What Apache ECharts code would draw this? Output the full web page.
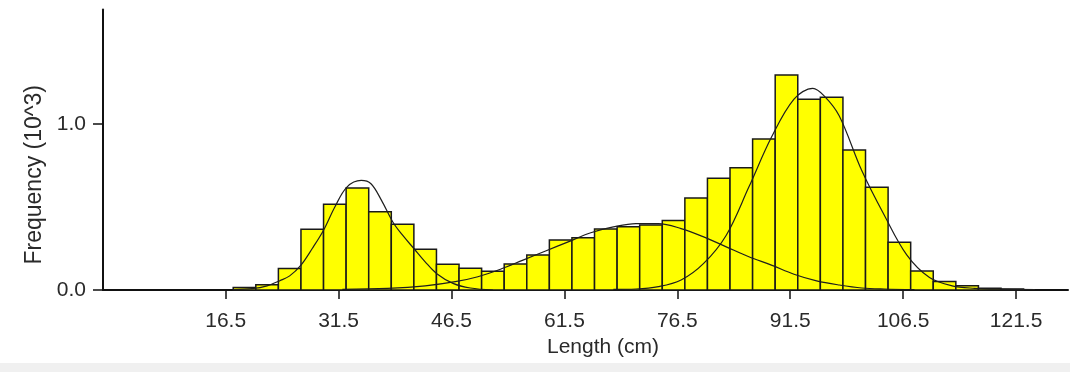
<!DOCTYPE html>
<html>
<head>
<meta charset="utf-8">
<script src="https://cdn.jsdelivr.net/npm/echarts@6/dist/echarts.min.js"></script>
<style>
html,body{margin:0;padding:0;background:#fff;}
#chart{width:1070px;height:372px;}
</style>
</head>
<body>
<div id="chart"></div>
<script>
// Length classes (bin centres, cm) and frequencies (x10^3)
const lengthBins = [19,22,25,28,31,34,37,40,43,46,49,52,55,58,61,64,67,70,73,76,79,82,85,88,91,94,97,100,103,106,109,112,115,118,121];
const frequency  = [0.015,0.032,0.13,0.366,0.516,0.615,0.472,0.396,0.246,0.155,0.131,0.113,0.157,0.211,0.301,0.315,0.367,0.381,0.392,0.418,0.554,0.673,0.737,0.91,1.295,1.149,1.161,0.843,0.619,0.287,0.114,0.051,0.026,0.01,0.006];
const binWidth = 3;

// Fitted component curves
const comp1Length = [17.5,20,22,23.7,25,26.5,28,29.5,31,32.6,34.5,35.8,37.2,38.7,40,41.5,43,44.5,46.7,49,52];
const comp1Freq   = [0.003,0.008,0.025,0.056,0.085,0.15,0.25,0.36,0.50,0.62,0.66,0.64,0.54,0.41,0.33,0.25,0.17,0.10,0.04,0.012,0.0];
const comp2Length = [32,38,43,47,50,53,56,59,62,65,68,71,74,77,80,83,86,89,92,95,98,101,104,108];
const comp2Freq   = [0.004,0.01,0.025,0.05,0.08,0.125,0.18,0.235,0.29,0.345,0.38,0.40,0.40,0.37,0.32,0.26,0.20,0.15,0.095,0.055,0.03,0.012,0.006,0.003];
const comp3Length = [68,71,74,77,80,83,86,89,92,94.5,96,98,101,104,107,110,113,116,119,124];
const comp3Freq   = [0.004,0.006,0.02,0.06,0.16,0.33,0.62,0.92,1.15,1.215,1.17,1.05,0.72,0.45,0.21,0.075,0.025,0.01,0.005,0.003];

const xTickValues = [16.5,31.5,46.5,61.5,76.5,91.5,106.5,121.5];
const yTickValues = [0,1];

const chart = echarts.init(document.getElementById('chart'), null, {renderer:'canvas'});
const font = "'Liberation Sans', Arial, sans-serif";
const curve = (xs, ys) => ({
  type:'line', smooth:0.35, showSymbol:false, symbol:'none', z:5,
  data: xs.map((x,i)=>[x, ys[i]]),
  lineStyle:{color:'#1e1e1e', width:1.2}
});

chart.setOption({
  animation:false,
  backgroundColor:'#ffffff',
  grid:{left:103, right:2, top:9.5, bottom:82},
  xAxis:{
    type:'value', min:0.2, max:128.4,
    name:'Length (cm)', nameLocation:'middle', nameGap:47,
    nameTextStyle:{fontFamily:font, fontSize:21, color:'#2a2a2a', padding:[0,0,0,35]},
    axisLine:{show:true, lineStyle:{color:'#111', width:2}},
    axisTick:{show:true, length:9, customValues:xTickValues, lineStyle:{color:'#111', width:1.5}},
    axisLabel:{customValues:xTickValues, formatter:v=>v.toFixed(1), margin:21, fontFamily:font, fontSize:21, color:'#2a2a2a'},
    splitLine:{show:false}
  },
  yAxis:{
    type:'value', min:0, max:1.69,
    name:'Frequency (10^3)', nameLocation:'middle', nameRotate:90, nameGap:52,
    nameTextStyle:{fontFamily:font, fontSize:23, color:'#2a2a2a', padding:[0,50,0,0]},
    axisLine:{show:true, lineStyle:{color:'#111', width:2}},
    axisTick:{show:true, length:10, customValues:yTickValues, lineStyle:{color:'#111', width:1.5}},
    axisLabel:{customValues:yTickValues, formatter:v=>v.toFixed(1), margin:17, fontFamily:font, fontSize:21, color:'#2a2a2a'},
    splitLine:{show:false}
  },
  graphic:[{type:'rect', shape:{x:0, y:363, width:1070, height:9}, style:{fill:'#f0f0f0'}, z:-1}],
  series:[
    {
      type:'custom', z:2,
      data: lengthBins.map((c,i)=>[c, frequency[i]]),
      encode:{x:0, y:1},
      renderItem:(params, api)=>{
        const c = api.value(0), f = api.value(1);
        const p0 = api.coord([c - binWidth/2, f]);
        const p1 = api.coord([c + binWidth/2, 0]);
        return {type:'rect', shape:{x:p0[0], y:p0[1], width:p1[0]-p0[0], height:p1[1]-p0[1]},
          style:{fill:'#ffff00', stroke:'#1a1a1a', lineWidth:1.5}};
      }
    },
    curve(comp1Length, comp1Freq),
    curve(comp2Length, comp2Freq),
    curve(comp3Length, comp3Freq)
  ]
});
</script>
</body>
</html>
